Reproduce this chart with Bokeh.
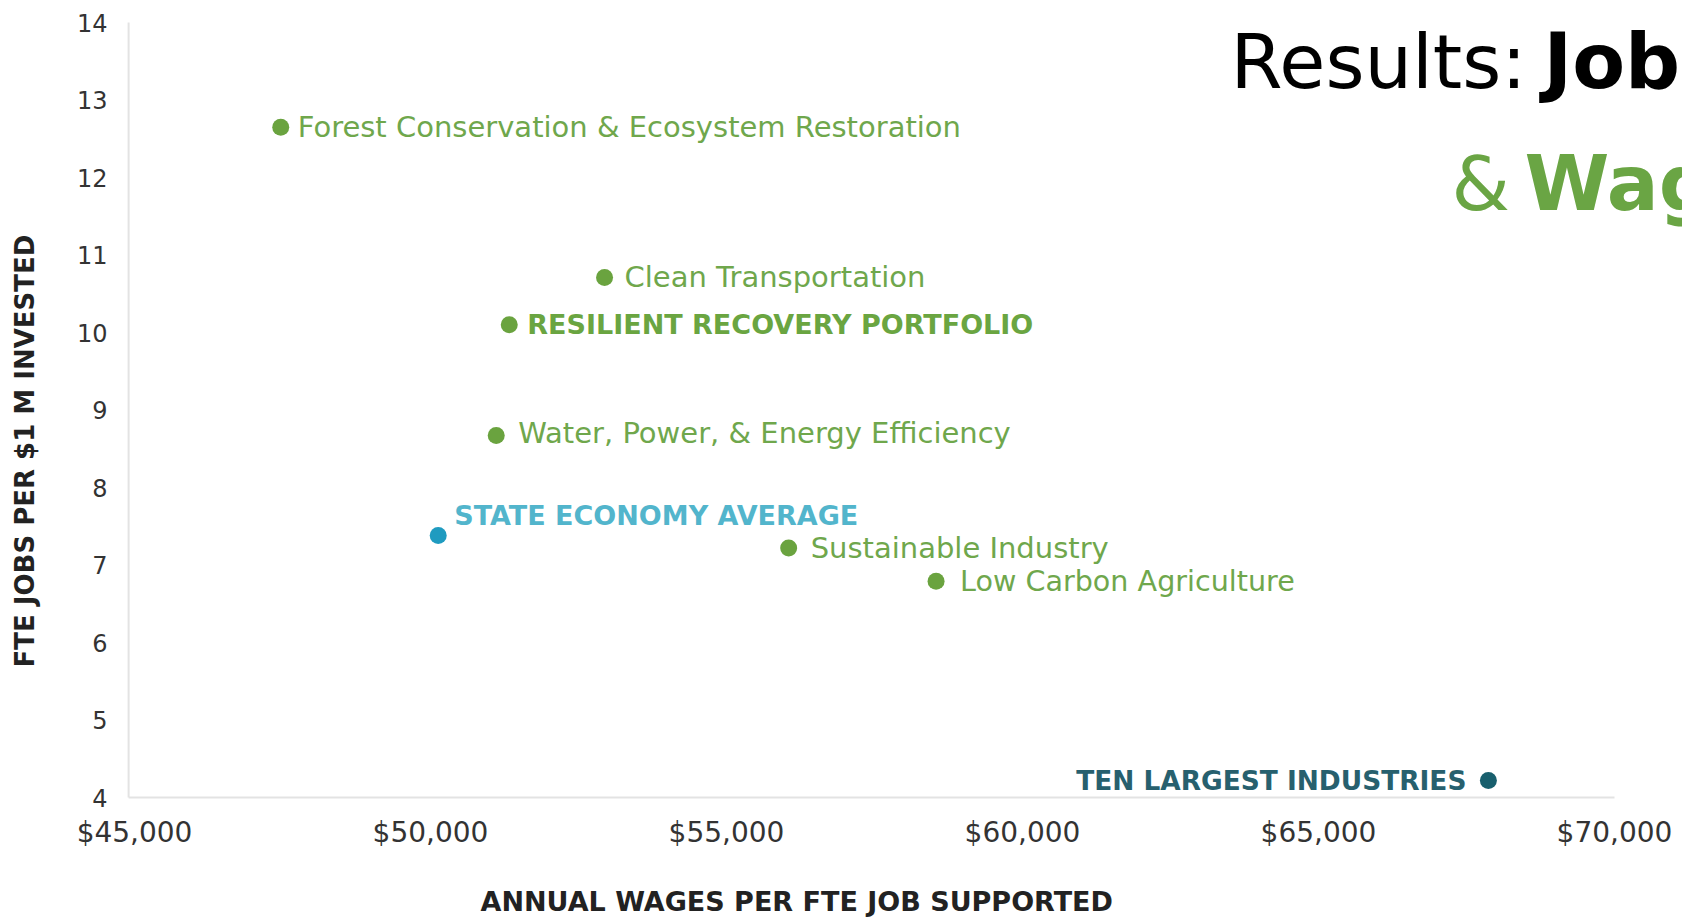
import math
from bokeh.plotting import figure
from bokeh.models import ColumnDataSource, Label, FixedTicker, NumeralTickFormatter, Range1d
from bokeh.core.properties import value
from bokeh.embed import file_html
from bokeh.resources import INLINE

# ---- data ----
names = ["Forest Conservation & Ecosystem Restoration", "Clean Transportation",
         "RESILIENT RECOVERY PORTFOLIO", "Water, Power, & Energy Efficiency",
         "STATE ECONOMY AVERAGE", "Sustainable Industry", "Low Carbon Agriculture",
         "TEN LARGEST INDUSTRIES"]
wages = [47470, 52940, 51330, 51110, 50130, 56050, 58540, 67870]
jobs = [12.65, 10.71, 10.10, 8.67, 7.38, 7.22, 6.79, 4.22]
dot_colors = ["#6aa33f", "#6aa33f", "#6aa33f", "#6aa33f", "#1f9bc0", "#6aa33f", "#6aa33f", "#185f6d"]
label_colors = ["#6fa74c", "#6fa74c", "#6aa541", "#6fa74c", "#52b5cc", "#6fa74c", "#6fa74c", "#27606e"]
label_weights = ["normal", "normal", "bold", "normal", "bold", "normal", "normal", "bold"]
label_sizes = ["29px", "29px", "27px", "29px", "27px", "29px", "28.6px", "26.4px"]
label_dx = [17, 20, 18, 22, 16, 22, 24, -22]
label_dy = [0, 0, 0, 3, 20, 0, 0, 0]
label_align = ["left"] * 7 + ["right"]

x_ticks = [45000, 50000, 55000, 60000, 65000, 70000]
y_ticks = [4, 5, 6, 7, 8, 9, 10, 11, 12, 13, 14]

W, H = 1682, 919
FONT = "DejaVu Sans"
X_AXIS_AT = 44900               # where the vertical axis stands
X0, X1 = 42736, 71149           # the frame fills the whole canvas
Y0, Y1 = 2.426, 14.284

p = figure(width=W, height=H, output_backend="svg", toolbar_location=None,
           x_range=Range1d(X0, X1), y_range=Range1d(Y0, Y1),
           min_border_left=0, min_border_right=0, min_border_top=0, min_border_bottom=0)
p.outline_line_color = None
p.grid.visible = False
p.background_fill_color = "white"
p.border_fill_color = "white"

for ax in (p.xaxis, p.yaxis):
    ax.axis_line_color = None
    ax.major_tick_line_color = None
    ax.minor_tick_line_color = None
    ax.major_label_text_color = "#333333"
    ax.major_label_text_font = FONT

p.xaxis.fixed_location = y_ticks[0]
p.yaxis.fixed_location = X_AXIS_AT

# axis lines, spanning the tick range only
p.segment(x0=[X_AXIS_AT, X_AXIS_AT], y0=[y_ticks[0], y_ticks[0]],
          x1=[x_ticks[-1], X_AXIS_AT], y1=[y_ticks[0], y_ticks[-1]],
          line_color="#e3e3e3", line_width=2)

p.xaxis.ticker = FixedTicker(ticks=x_ticks)
p.xaxis.formatter = NumeralTickFormatter(format="$0,0")
p.xaxis.major_label_text_font_size = "28px"
p.xaxis.major_label_standoff = 12
p.yaxis.ticker = FixedTicker(ticks=y_ticks)
p.yaxis.major_label_text_font_size = "24px"
p.yaxis.major_label_standoff = 15

src = ColumnDataSource(dict(x=wages, y=jobs, dc=dot_colors))
p.scatter("x", "y", source=src, size=17, fill_color="dc", line_color=None)

for i in range(len(names)):
    p.text(x=[wages[i]], y=[jobs[i]], text=[names[i]], x_offset=label_dx[i], y_offset=-label_dy[i],
           text_color=label_colors[i], text_font=value(FONT), text_font_size=label_sizes[i],
           text_font_style=label_weights[i], text_align=label_align[i], text_baseline="middle")

# axis titles
p.add_layout(Label(x=480, y=18, x_units="screen", y_units="screen",
                   text="ANNUAL WAGES PER FTE JOB SUPPORTED", text_font=FONT, text_font_size="27px",
                   text_font_style="bold", text_color="#222222", text_align="left", text_baseline="middle"))
p.add_layout(Label(x=24, y=252, x_units="screen", y_units="screen", angle=math.pi / 2,
                   text="FTE JOBS PER $1 M INVESTED", text_font=FONT, text_font_size="26px",
                   text_font_style="bold", text_color="#222222", text_align="left", text_baseline="middle"))

# slide title (clipped at the right edge like the reference)
p.add_layout(Label(x=1230, y=858, x_units="screen", y_units="screen", text="Results:",
                   text_font=FONT, text_font_size="75px", text_color="#000000", text_baseline="alphabetic"))
p.add_layout(Label(x=1543, y=858, x_units="screen", y_units="screen", text="Jobs",
                   text_font=FONT, text_font_size="77px", text_font_style="bold", text_color="#000000",
                   text_baseline="alphabetic"))
p.add_layout(Label(x=1451, y=736, x_units="screen", y_units="screen", text="&",
                   text_font=FONT, text_font_size="75px", text_color="#6aa544", text_baseline="alphabetic"))
p.add_layout(Label(x=1524, y=736, x_units="screen", y_units="screen", text="Wages",
                   text_font=FONT, text_font_size="77px", text_font_style="bold", text_color="#6aa544",
                   text_baseline="alphabetic"))

open("out.html", "w").write(file_html(p, INLINE))
